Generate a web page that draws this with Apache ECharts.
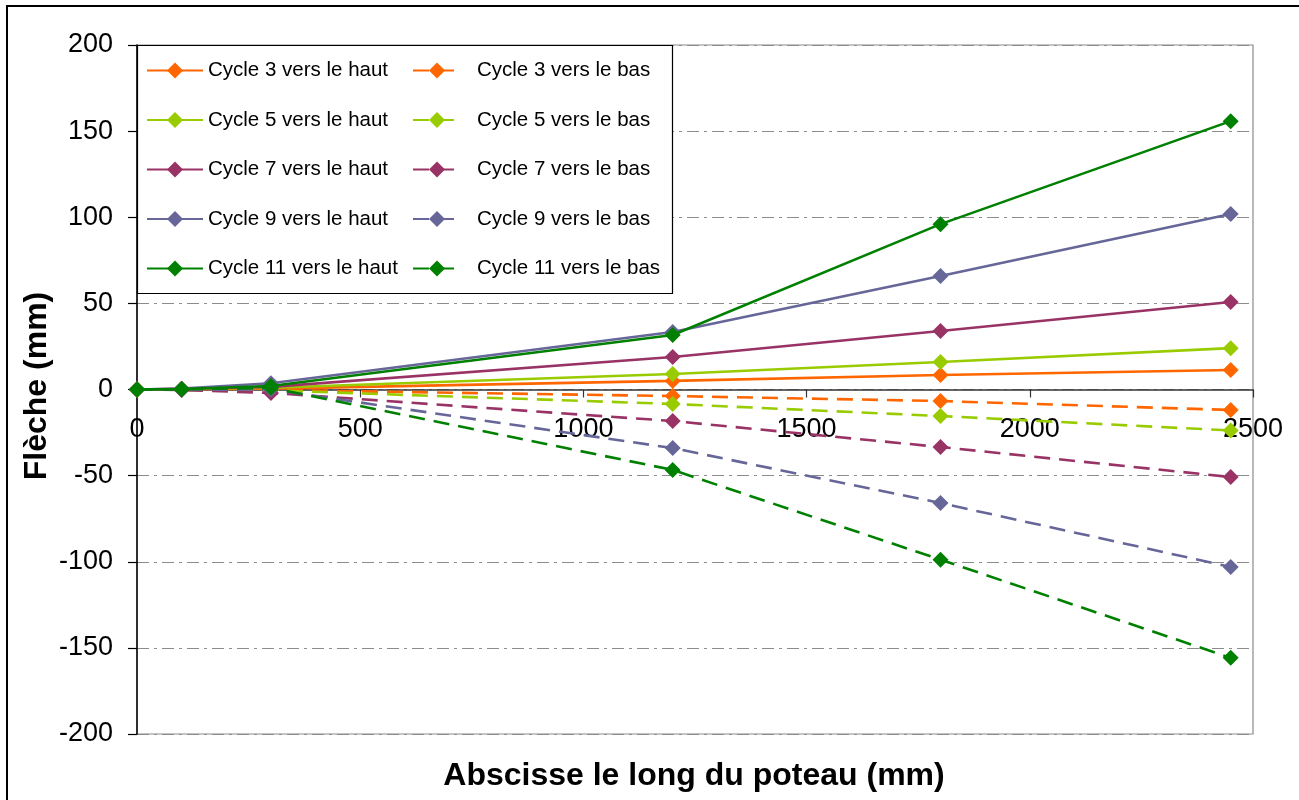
<!DOCTYPE html>
<html>
<head>
<meta charset="utf-8">
<script src="https://cdn.jsdelivr.net/npm/echarts@6/dist/echarts.min.js"></script>
<style>html,body{margin:0;padding:0;background:#fff;}#c{width:1299px;height:800px;}</style>
</head>
<body>
<div id="c"></div>
<script>
// Abscissa positions (mm)
const xPos = [0, 100, 300, 1200, 1800, 2450];
// Deflection values (mm)
const c3Up   = [0, 0.2, 0.5, 5.0, 8.4, 11.3];
const c3Down = [0, -0.2, -0.3, -3.8, -6.7, -11.9];
const c5Up   = [0, 0.3, 1.0, 9.0, 16.0, 24.0];
const c5Down = [0, -0.2, -0.5, -8.4, -15.4, -23.8];
const c7Up   = [0, 0.4, 1.5, 18.9, 34.0, 50.8];
const c7Down = [0, -0.3, -2.0, -18.3, -33.4, -50.8];
const c9Up   = [0, 0.5, 3.6, 33.4, 65.9, 101.9];
const c9Down = [0, -0.2, 0.0, -34.0, -65.9, -103.0];
const c11Up  = [0, 0.3, 2.0, 31.6, 96.0, 155.8];
const c11Down= [0, 0.1, 1.0, -46.7, -98.8, -155.8];
const upNames = ['Cycle 3 vers le haut','Cycle 5 vers le haut','Cycle 7 vers le haut','Cycle 9 vers le haut','Cycle 11 vers le haut'];
const downNames = ['Cycle 3 vers le bas','Cycle 5 vers le bas','Cycle 7 vers le bas','Cycle 9 vers le bas','Cycle 11 vers le bas'];
const yTicks = [-200, -150, -100, -50, 0, 50, 100, 150, 200];
const xTicks = [0, 500, 1000, 1500, 2000, 2500];

const colors = ['#FF6600', '#99CC00', '#993366', '#666699', '#008000'];
const upData = [c3Up, c5Up, c7Up, c9Up, c11Up];
const downData = [c3Down, c5Down, c7Down, c9Down, c11Down];

const FONT = 'Liberation Sans, Arial, sans-serif';
function pairs(arr) { return xPos.map((x, i) => [x, arr[i]]); }

const series = [];
for (let i = 0; i < 5; i++) {
  series.push({
    name: upNames[i], type: 'line', data: pairs(upData[i]),
    symbol: 'diamond', symbolSize: 16, showSymbol: true,
    color: colors[i],
    lineStyle: { color: colors[i], width: 2.6, type: 'solid' },
    itemStyle: { color: colors[i] },
    animation: false, z: 2 + i * 0.1
  });
  series.push({
    name: downNames[i], type: 'line', data: pairs(downData[i]),
    symbol: 'diamond', symbolSize: 16, showSymbol: true,
    color: colors[i],
    lineStyle: { color: colors[i], width: 2.6, type: [16, 9] },
    itemStyle: { color: colors[i] },
    animation: false, z: 2 + i * 0.1
  });
}

const GRID_TOP = 45, GRID_BOTTOM = 66, H = 800;
const plotH = H - GRID_TOP - GRID_BOTTOM;
const zeroOffset = plotH * (0 - yTicks[0]) / (yTicks[yTicks.length - 1] - yTicks[0]);

const chart = echarts.init(document.getElementById('c'), null, { renderer: 'canvas' });
chart.setOption({
  animation: false,
  backgroundColor: '#ffffff',
  grid: { left: 137, right: 46, top: GRID_TOP, bottom: GRID_BOTTOM, show: true, borderColor: '#8c8c8c', borderWidth: 1.2, backgroundColor: 'transparent' },
  xAxis: {
    type: 'value', min: xTicks[0], max: xTicks[xTicks.length - 1], interval: 500,
    position: 'bottom', offset: -zeroOffset,
    axisLine: { show: true, onZero: false, lineStyle: { color: '#333', width: 1.5 } },
    axisTick: { show: true, inside: false, length: 8, lineStyle: { color: '#333', width: 1.2 } },
    axisLabel: { fontSize: 27, fontFamily: FONT, color: '#000', margin: 27, formatter: v => String(v) },
    splitLine: { show: false }
  },
  yAxis: {
    type: 'value', min: yTicks[0], max: yTicks[yTicks.length - 1], interval: 50,
    axisLine: { show: true, onZero: false, lineStyle: { color: '#000', width: 1.5 } },
    axisTick: { show: true, inside: false, length: 9, lineStyle: { color: '#000', width: 1.2 } },
    axisLabel: { fontSize: 27, fontFamily: FONT, color: '#000', margin: 24, formatter: v => String(v) },
    splitLine: { show: true, lineStyle: { color: '#8c8c8c', width: 1.2, type: [12, 5, 3, 5] } }
  },
  legend: [
    {
      orient: 'vertical', left: 146, top: 60, padding: 0, selectedMode: false,
      itemWidth: 56, itemHeight: 20, itemGap: 28.5,
      textStyle: { fontSize: 20.5, fontFamily: FONT, color: '#000', lineHeight: 20 },
      data: upNames, z: 10
    },
    {
      orient: 'vertical', left: 412, top: 60, padding: 0, selectedMode: false,
      itemWidth: 48, itemHeight: 20, itemGap: 28.5,
      textStyle: { fontSize: 20.5, fontFamily: FONT, color: '#000', lineHeight: 20, padding: [0, 0, 0, 11] },
      data: downNames, z: 10
    }
  ],
  graphic: [
    {
      type: 'rect', z: 5,
      shape: { x: 137.5, y: 45.5, width: 535, height: 248 },
      style: { fill: '#fff', stroke: '#000', lineWidth: 1.2 }
    },
    {
      type: 'rect', z: 5,
      shape: { x: 7, y: 6, width: 1320, height: 820 },
      style: { fill: 'none', stroke: '#000', lineWidth: 2 }
    },
    {
      type: 'text', z: 6, x: 37, y: 386, rotation: Math.PI / 2,
      style: { text: 'Flèche (mm)', font: 'bold 32px ' + FONT, fill: '#000', align: 'center', verticalAlign: 'middle' }
    },
    {
      type: 'text', z: 6, x: 694, y: 776,
      style: { text: 'Abscisse le long du poteau (mm)', font: 'bold 32px ' + FONT, fill: '#000', align: 'center', verticalAlign: 'middle' }
    }
  ],
  series: series
});
</script>
</body>
</html>
